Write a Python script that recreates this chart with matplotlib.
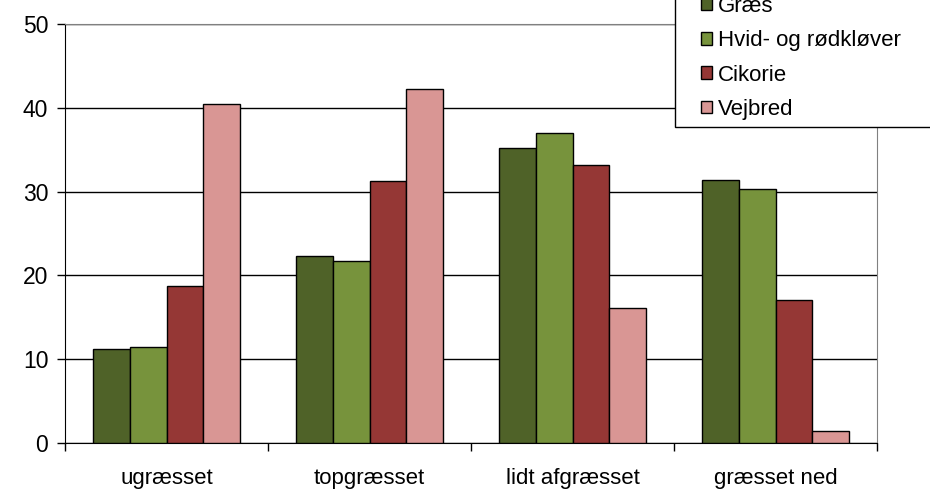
import numpy as np
import matplotlib
matplotlib.use("Agg")
import matplotlib.pyplot as plt
from matplotlib.patches import Rectangle

plt.rcParams["font.family"] = ["Liberation Sans", "DejaVu Sans"]

categories = ["ugræsset", "topgræsset", "lidt afgræsset", "græsset ned"]
series_names = ["Græs", "Hvid- og rødkløver", "Cikorie", "Vejbred"]
graes = [11.2, 22.3, 35.2, 31.4]
kloever = [11.5, 21.7, 37.0, 30.3]
cikorie = [18.7, 31.3, 33.2, 17.1]
vejbred = [40.5, 42.2, 16.1, 1.4]
colors = ["#4F6228", "#77933C", "#953735", "#D99694"]

W, H = 930, 493
fig = plt.figure(figsize=(W / 100, H / 100), dpi=100)
ax = fig.add_axes([65 / W, 1 - 443 / H, 812 / W, 419 / H])

x = np.arange(len(categories))
width = 0.18
for i, (vals, name) in enumerate(zip([graes, kloever, cikorie, vejbred], series_names)):
    ax.bar(x + (i - 1.5) * width, vals, width, color=colors[i], edgecolor="black",
           linewidth=1, label=name, zorder=3)

ax.set_xlim(-0.5, len(categories) - 0.5)
ax.set_ylim(0, 50)
ax.set_yticks([0, 10, 20, 30, 40, 50])
ax.yaxis.grid(True, color="black", linewidth=1, zorder=0)
ax.set_axisbelow(True)

# category labels sit between the boundary ticks
ax.set_xticks(np.arange(-0.5, len(categories)))
ax.set_xticklabels([])
ax.set_xticks(x, minor=True)
ax.set_xticklabels(categories, minor=True)
ax.tick_params(axis="x", which="minor", length=0, pad=18, labelsize=16)
ax.tick_params(axis="x", which="major", length=6, direction="out", width=1)
ax.tick_params(axis="y", length=6, direction="out", width=1, labelsize=16.5, pad=6)

for side in ["top", "right"]:
    ax.spines[side].set_color("#808080")
for side in ["left", "bottom"]:
    ax.spines[side].set_color("black")

# legend frame runs off the top and right edge of the figure
fig.patches.append(Rectangle((675 / W, 1 - 127 / H), 300 / W, 200 / H,
                             transform=fig.transFigure, facecolor="white",
                             edgecolor="black", linewidth=1, zorder=5))
leg = fig.legend(loc="lower left", bbox_to_anchor=(701 / W, 1 - 120 / H),
                 fontsize=16, frameon=False, handlelength=0.5,
                 handleheight=0.5, handletextpad=0.25, labelspacing=0.6,
                 borderpad=0, borderaxespad=0)
leg.set_zorder(6)

fig.savefig("out.png", dpi=100)
